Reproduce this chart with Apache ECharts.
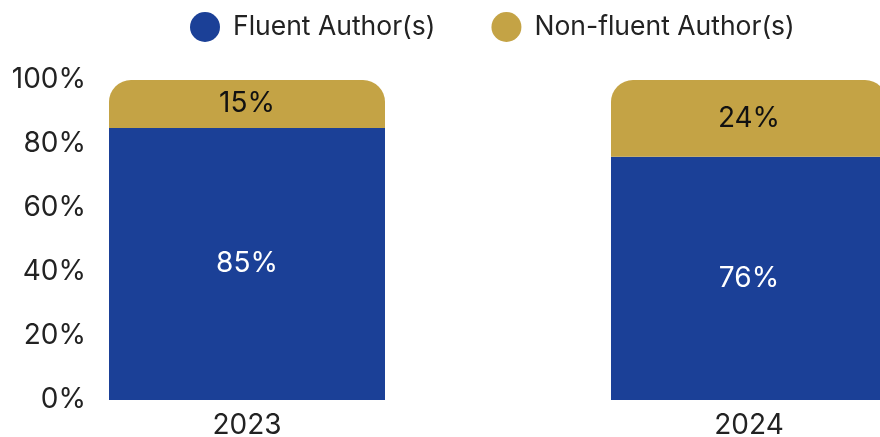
<!DOCTYPE html>
<html>
<head>
<meta charset="utf-8">
<script src="https://cdn.jsdelivr.net/npm/echarts@6/dist/echarts.min.js"></script>
<style>
html,body{margin:0;padding:0;background:#fff;}
#chart{width:880px;height:437px;}
</style>
</head>
<body>
<div id="chart"></div>
<script>
var years = ['2023', '2024'];
var fluent = [85, 76];
var nonFluent = [15, 24];
var yTicks = [0, 20, 40, 60, 80, 100];

var font = 'Inter';
var chart = echarts.init(document.getElementById('chart'));
var option = {
    animation: false,
    legend: {
        top: 7,
        left: 185,
        itemWidth: 30,
        itemHeight: 30,
        itemGap: 56,
        icon: 'circle',
        textStyle: {
            fontFamily: font,
            fontSize: 26.5,
            color: '#222',
            padding: [0, 0, 0, 8]
        },
        data: ['Fluent Author(s)', 'Non-fluent Author(s)']
    },
    // category points at x=247 and x=749, bars centred on them
    grid: {
        left: 247,
        right: 131,
        top: 80,
        bottom: 37,
        outerBoundsMode: 'none'
    },
    xAxis: {
        type: 'category',
        data: years,
        boundaryGap: false,
        axisLine: {show: false},
        axisTick: {show: false},
        splitLine: {show: false},
        axisLabel: {
            margin: 12,
            fontFamily: font,
            fontSize: 28,
            color: '#222'
        }
    },
    yAxis: {
        type: 'value',
        min: yTicks[0],
        max: yTicks[yTicks.length - 1],
        interval: 20,
        offset: 153,
        axisLine: {show: false},
        axisTick: {show: false},
        splitLine: {show: false},
        axisLabel: {
            margin: 8,
            fontFamily: font,
            fontSize: 28,
            color: '#222',
            formatter: '{value}%'
        }
    },
    series: [{
        name: 'Fluent Author(s)',
        type: 'bar',
        stack: 'total',
        clip: false,
        data: fluent,
        barWidth: 276,
        itemStyle: {color: '#1b4097'},
        label: {
            show: true,
            position: 'inside',
            formatter: '{c}%',
            fontFamily: font,
            fontSize: 28,
            color: '#fff'
        }
    }, {
        name: 'Non-fluent Author(s)',
        type: 'bar',
        stack: 'total',
        clip: false,
        data: nonFluent,
        barWidth: 276,
        itemStyle: {color: '#c4a345', borderRadius: [22, 22, 0, 0]},
        label: {
            show: true,
            position: 'inside',
            formatter: '{c}%',
            fontFamily: font,
            fontSize: 28,
            color: '#111'
        }
    }]
};
chart.setOption(option);
</script>
</body>
</html>
